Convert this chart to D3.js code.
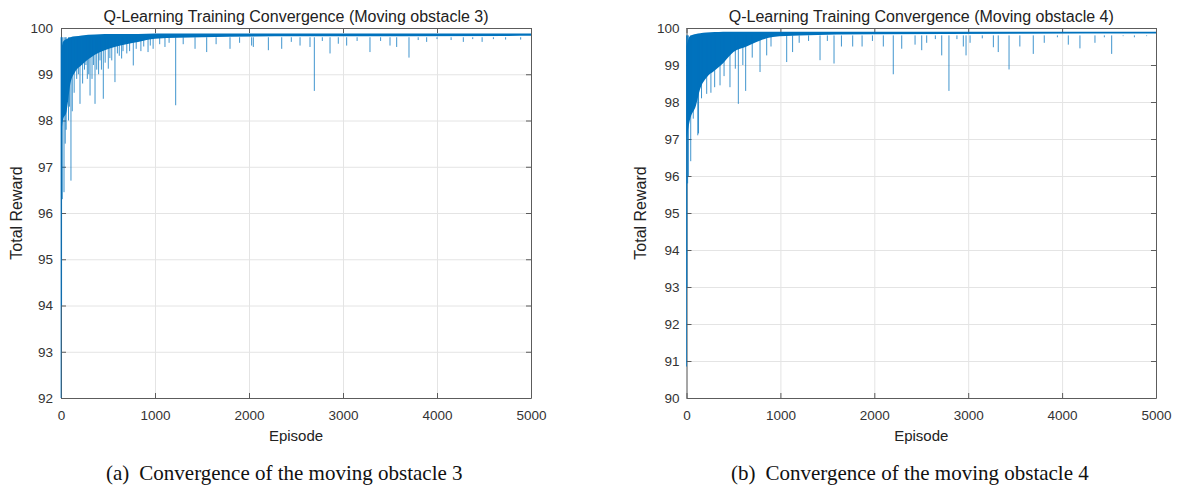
<!DOCTYPE html>
<html>
<head>
<meta charset="utf-8">
<script src="https://cdn.jsdelivr.net/npm/d3@7"></script>
<style>
  body { margin: 0; background: #fff; }
  .axis path, .axis line { stroke: #5c5c5c; }
  .axis text { font-family: "Liberation Sans", Arial, sans-serif; font-size: 13.5px; fill: #333; }
  .grid line { stroke: #e4e4e4; }
  .grid path { display: none; }
</style>
</head>
<body>
<svg id="fig" width="1188" height="487"></svg>
<script>
// shared x ticks
const episodeTicks = [0, 1000, 2000, 3000, 4000, 5000];

// ---- moving obstacle 3 ----
const yTicks3 = [92, 93, 94, 95, 96, 97, 98, 99, 100];
// dense band of the early episodes (lower / upper edge)
const bandEp3 = [0, 20, 60, 100, 150, 220, 360, 570, 820, 1000, 1500, 2500, 5000];
const bandLo3 = [97.6, 98.0, 98.2, 98.8, 99.05, 99.2, 99.42, 99.59, 99.7, 99.77, 99.8, 99.82, 99.83];
const bandHi3 = [99.4, 99.7, 99.76, 99.8, 99.82, 99.84, 99.86, 99.87, 99.87, 99.88, 99.88, 99.88, 99.88];
// single downward spikes (episode, lowest reward)
const spikeEp3 = [0, 6, 14, 32, 45, 55, 80, 90, 106, 120, 140, 167, 185, 202, 230, 250, 265, 280, 295, 309, 330,
  345, 362, 380, 400, 415, 430, 450, 470, 503, 520, 540, 574, 600, 620, 645, 660, 700, 730, 769, 800, 850, 880,
  926, 950, 980, 1050, 1106, 1150, 1220, 1300, 1426, 1550, 1650, 1798, 1900, 2028, 2046, 2206, 2348, 2450, 2543,
  2649, 2695, 2780, 2862, 2950, 3039, 3150, 3287, 3400, 3500, 3571, 3702, 3800, 3890, 4000, 4150, 4280, 4380,
  4480, 4600, 4730, 4890];
const spikeMin3 = [92.0, 94.0, 96.3, 96.45, 97.5, 97.8, 98.0, 98.3, 96.7, 98.2, 98.6, 98.9, 99.0, 98.36, 98.8, 99.1,
  99.2, 98.9, 99.0, 98.54, 98.9, 99.2, 98.36, 99.1, 99.0, 99.3, 99.1, 98.47, 99.25, 99.12, 99.35, 99.3, 98.83, 99.45,
  99.4, 99.34, 99.5, 99.45, 99.5, 99.19, 99.55, 99.5, 99.6, 99.48, 99.62, 99.55, 99.65, 99.59, 99.68, 98.33, 99.65,
  99.55, 99.48, 99.65, 99.55, 99.68, 99.62, 99.59, 99.52, 99.55, 99.7, 99.62, 99.59, 98.64, 99.72, 99.45, 99.66,
  99.62, 99.72, 99.48, 99.72, 99.62, 99.59, 99.36, 99.74, 99.7, 99.76, 99.74, 99.7, 99.76, 99.7, 99.76, 99.75, 99.75];

// ---- moving obstacle 4 ----
const yTicks4 = [90, 91, 92, 93, 94, 95, 96, 97, 98, 99, 100];
const bandEp4 = [0, 35, 100, 145, 210, 300, 390, 500, 640, 920, 1200, 2000, 5000];
const bandLo4 = [97.0, 97.5, 97.9, 98.35, 98.65, 98.85, 99.05, 99.35, 99.5, 99.76, 99.8, 99.83, 99.85];
const bandHi4 = [99.5, 99.78, 99.84, 99.86, 99.88, 99.89, 99.9, 99.9, 99.9, 99.9, 99.9, 99.9, 99.9];
const spikeEp4 = [0, 5, 12, 20, 45, 72, 120, 128, 160, 215, 260, 300, 357, 400, 463, 520, 552, 600, 630, 700, 783,
  854, 900, 1067, 1130, 1200, 1300, 1422, 1500, 1571, 1650, 1770, 1870, 1980, 2096, 2202, 2292, 2434, 2505, 2558,
  2650, 2718, 2795, 2880, 2948, 2977, 3020, 3150, 3268, 3320, 3435, 3550, 3693, 3810, 3950, 4066, 4190, 4350, 4450,
  4528, 4650, 4770, 4900];
const spikeMin4 = [90.85, 93.0, 95.8, 96.0, 96.4, 97.55, 97.1, 97.15, 98.1, 98.22, 98.25, 98.4, 98.45, 98.7, 98.4,
  98.9, 97.95, 99.0, 98.3, 99.2, 98.81, 99.26, 99.5, 99.08, 99.35, 99.6, 99.65, 99.13, 99.65, 99.04, 99.5, 99.5,
  99.5, 99.65, 99.5, 98.75, 99.44, 99.55, 99.4, 99.6, 99.7, 99.26, 98.3, 99.7, 99.5, 99.26, 99.6, 99.72, 99.48,
  99.35, 98.88, 99.5, 99.3, 99.6, 99.75, 99.55, 99.45, 99.6, 99.75, 99.3, 99.78, 99.75, 99.78];

const blue = '#0072bd';
const spikeTop = 99.8;
const plotTop = 28, plotBottom = 398;

const svg = d3.select('#fig');

function drawPanel(p) {
  const x = d3.scaleLinear().domain([0, 5000]).range([p.left, p.right]);
  const y = d3.scaleLinear().domain([p.yTicks[0], p.yTicks[p.yTicks.length - 1]]).range([plotBottom, plotTop]);
  const w = p.right - p.left, h = plotBottom - plotTop;

  // gridlines
  svg.append('g').attr('class', 'grid').attr('transform', `translate(0,${plotBottom})`)
    .call(d3.axisBottom(x).tickValues(episodeTicks).tickSize(-h).tickFormat(''));
  svg.append('g').attr('class', 'grid').attr('transform', `translate(${p.left},0)`)
    .call(d3.axisLeft(y).tickValues(p.yTicks).tickSize(-w).tickFormat(''));

  // box + ticks (inward like matlab)
  svg.append('g').attr('class', 'axis').attr('transform', `translate(0,${plotBottom})`)
    .call(d3.axisBottom(x).tickValues(episodeTicks).tickFormat(d3.format('d'))
      .tickSizeInner(-5).tickSizeOuter(0).tickPadding(12));
  svg.append('g').attr('class', 'axis').attr('transform', `translate(0,${plotTop})`)
    .call(d3.axisTop(x).tickValues(episodeTicks).tickSizeInner(-5).tickSizeOuter(0).tickFormat(''));
  svg.append('g').attr('class', 'axis').attr('transform', `translate(${p.left},0)`)
    .call(d3.axisLeft(y).tickValues(p.yTicks).tickSizeInner(-5).tickSizeOuter(0).tickPadding(p.yPad));
  svg.append('g').attr('class', 'axis').attr('transform', `translate(${p.right},0)`)
    .call(d3.axisRight(y).tickValues(p.yTicks).tickSizeInner(-5).tickSizeOuter(0).tickFormat(''));

  // data: dense band + spikes
  const band = p.bandEp.map((e, i) => ({ep: e, lo: p.bandLo[i], hi: p.bandHi[i]}));
  svg.append('path').datum(band)
    .attr('fill', blue)
    .attr('d', d3.area().x(d => x(d.ep)).y0(d => y(d.lo)).y1(d => y(d.hi)).curve(d3.curveMonotoneX));

  const spikes = p.spikeEp.map((e, i) => ({ep: e, min: p.spikeMin[i]}));
  svg.append('g').selectAll('line').data(spikes).join('line')
    .attr('x1', d => x(d.ep)).attr('x2', d => x(d.ep))
    .attr('y1', y(spikeTop)).attr('y2', d => y(d.min))
    .attr('stroke', blue).attr('stroke-width', 1).attr('stroke-opacity', 0.75);

  // texts
  const cx = (p.left + p.right) / 2;
  svg.append('text').attr('x', cx).attr('y', 22).attr('text-anchor', 'middle')
    .style('font-family', '"Liberation Sans", Arial, sans-serif').style('font-size', '16px').style('fill', '#222')
    .text(p.title);
  svg.append('text').attr('x', cx).attr('y', 441).attr('text-anchor', 'middle')
    .style('font-family', '"Liberation Sans", Arial, sans-serif').style('font-size', '15px').style('fill', '#222')
    .text('Episode');
  svg.append('text').attr('transform', `translate(${p.yLabelX},${(plotTop + plotBottom) / 2}) rotate(-90)`)
    .attr('text-anchor', 'middle')
    .style('font-family', '"Liberation Sans", Arial, sans-serif').style('font-size', '16px').style('fill', '#222')
    .text('Total Reward');

  const cap = svg.append('text').attr('x', p.capX).attr('y', 480)
    .style('font-family', '"Liberation Serif", "Times New Roman", serif').style('font-size', '21px').style('fill', '#111');
  cap.append('tspan').text(p.capTag);
  cap.append('tspan').attr('dx', 10).text(p.caption);
}

drawPanel({
  left: 61, right: 531, yPad: 8, yLabelX: 22,
  yTicks: yTicks3,
  bandEp: bandEp3, bandLo: bandLo3, bandHi: bandHi3,
  spikeEp: spikeEp3, spikeMin: spikeMin3,
  title: 'Q-Learning Training Convergence (Moving obstacle 3)',
  capX: 106, capTag: '(a)', caption: 'Convergence of the moving obstacle 3'
});

drawPanel({
  left: 686.5, right: 1156, yPad: 7, yLabelX: 646,
  yTicks: yTicks4,
  bandEp: bandEp4, bandLo: bandLo4, bandHi: bandHi4,
  spikeEp: spikeEp4, spikeMin: spikeMin4,
  title: 'Q-Learning Training Convergence (Moving obstacle 4)',
  capX: 731, capTag: '(b)', caption: 'Convergence of the moving obstacle 4'
});
</script>
</body>
</html>
